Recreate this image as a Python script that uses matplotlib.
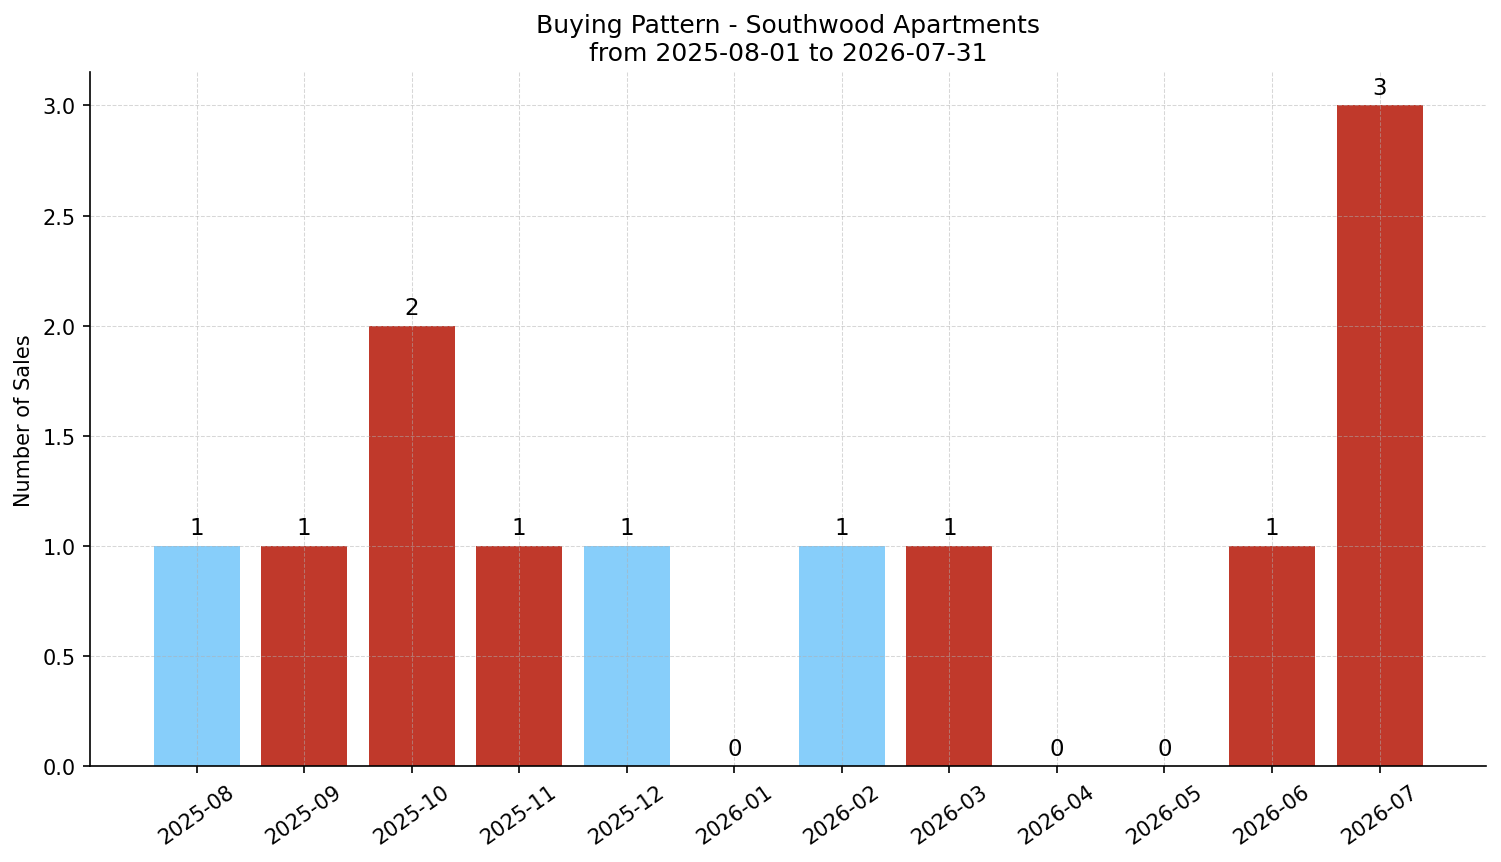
import matplotlib
matplotlib.use("Agg")
import matplotlib.pyplot as plt

months = ["2025-08", "2025-09", "2025-10", "2025-11", "2025-12", "2026-01",
          "2026-02", "2026-03", "2026-04", "2026-05", "2026-06", "2026-07"]
sales = [1, 1, 2, 1, 1, 0, 1, 1, 0, 0, 1, 3]
bar_colors = ["#87CEFA", "#C0392B", "#C0392B", "#C0392B", "#87CEFA", "#C0392B",
              "#87CEFA", "#C0392B", "#C0392B", "#C0392B", "#C0392B", "#C0392B"]

fig, ax = plt.subplots(figsize=(10.007, 5.753), dpi=150)
bars = ax.bar(months, sales, color=bar_colors, width=0.8)

for b, v in zip(bars, sales):
    ax.text(b.get_x() + b.get_width() / 2, v + 0.03, str(v),
            ha="center", va="bottom", fontsize=11)

ax.set_title("Buying Pattern - Southwood Apartments\nfrom 2025-08-01 to 2026-07-31", fontsize=12)
ax.set_ylabel("Number of Sales", fontsize=10)
ax.tick_params(axis="both", labelsize=10)
plt.setp(ax.get_xticklabels(), rotation=35)
ax.grid(True, linestyle="--", alpha=0.5, linewidth=0.5)
ax.spines["top"].set_visible(False)
ax.spines["right"].set_visible(False)

fig.subplots_adjust(left=0.06, right=0.99, top=0.915, bottom=0.111)
fig.savefig("out.png", dpi=150)
